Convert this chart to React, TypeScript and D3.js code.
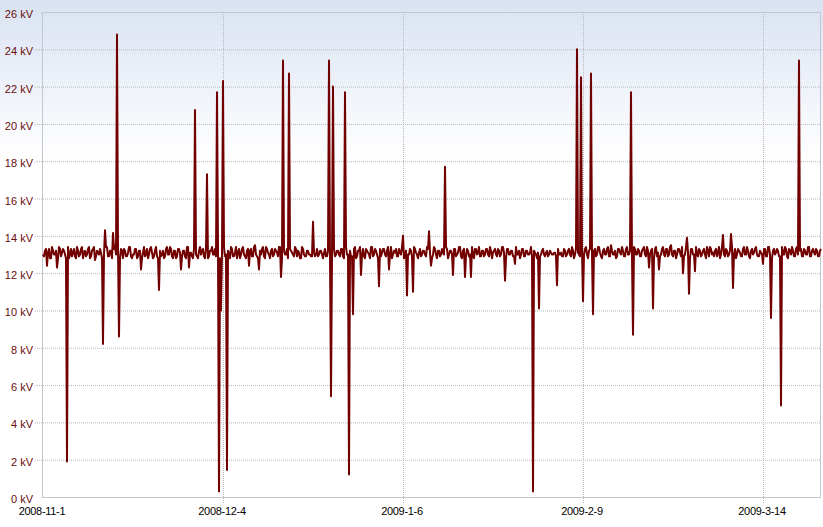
import React from 'react';
import * as d3 from 'd3';

// Voltage readings (kV), one every ~8 hours
const baseline: number[] = [
  13.0,13.2,12.9,13.3,12.8,13.2,13.0,12.9,13.4,12.9,
  13.3,13.0,13.2,12.8,13.3,13.1,12.9,13.4,12.9,13.3,
  12.8,13.2,13.0,13.4,12.9,13.3,12.7,13.2,13.0,13.1,
  13.3,13.0,13.4,12.9,13.2,13.1,13.5,13.0,12.9,13.3,
  12.8,13.2,12.9,13.4,12.9,13.0,13.3,12.8,13.2,13.0,
  13.1,12.9,13.3,13.0,13.4,12.8,13.2,12.9,13.3,12.9,
  13.2,12.9,13.4,13.0,13.3,12.8,13.2,12.9,13.3,13.0,
  13.2,12.9,13.4,13.0,13.1,12.8,13.3,12.9,13.2,13.0,
  13.3,12.8,13.4,12.9,13.2,13.0,13.3,12.9,13.2,13.1,
  13.3,12.9,13.2,13.0,13.4,12.9,13.1,12.8,13.3,13.0,
  13.4,12.9,13.2,13.0,13.3,12.9,13.5,12.9,13.2,13.0,
  13.4,12.8,13.3,13.0,13.2,12.9,13.3,13.1,13.4,12.9,
  13.2,13.0,13.3,12.8,13.2,13.0,13.4,12.9,13.1,12.8,
  13.3,12.9,13.2,13.0,12.9,13.1,12.9,13.3,13.0,13.2,
  12.8,13.3,12.9,13.2,13.0,13.1,12.9,13.2,13.0,13.3,
  12.9,13.2,13.0,13.3,12.9,13.1,13.4,12.9,13.2,13.0,
  13.3,12.8,13.2,13.0,13.4,12.9,13.3,13.0,13.2,12.9,
  13.3,13.0,13.2,12.9,13.4,13.0,13.1,12.9,13.3,13.0,
  13.2,12.9,13.3,13.0,13.2,12.9,13.3,13.0,13.1,12.9,
  13.2,13.0,13.4,12.9,13.2,13.0,13.3,12.8,13.2,13.0,
  13.1,12.9,13.3,13.0,13.2,12.9,13.3,13.0,13.4,12.9,
  13.2,13.0,13.3,12.9,13.2,13.0,13.3,13.0,13.4,12.9,
  13.2,13.0,13.3,12.9,13.2,13.1,13.3,12.9,13.2,13.0,
  13.4,12.9,13.3,13.0,13.2,12.9,13.4,13.0,13.2,13.0,
  13.3,12.9,13.2,13.0,13.4,12.9,13.1,12.8,13.2,13.0,
  13.3,12.9,13.2,13.0,13.1,13.0,13.1,12.9,13.0,13.1,
  12.9,13.2,13.0,13.3,12.9,13.2,13.0,13.3,13.0,13.2,
  12.9,13.3,13.0,13.2,12.9,13.1,13.3,13.0,13.4,12.9,
  13.2,13.0,13.3,12.9,13.5,13.0,13.2,12.9,13.3,13.0,
  13.2,12.9,13.4,13.0,13.2,12.9,13.3,13.0,13.2,12.9,
  13.3,13.0,13.4,12.9,13.2,13.0,13.3,12.9,13.2,13.0,
  13.4,12.9,13.3,13.0,13.5,12.9,13.2,13.0,13.3,12.9,
  13.2,13.0,13.4,12.9,13.3,13.0,13.2,13.0,13.3,12.9,
  13.2,13.0,13.4,12.9,13.3,13.1,13.2,12.9,13.4,13.0,
  13.3,12.9,13.2,13.0,13.4,12.9,13.3,13.0,13.2,12.9,
  13.3,13.0,13.4,12.9,13.2,13.0,13.3,13.0,12.9,13.1,
  13.0,13.3,12.9,13.4,12.9,13.2,13.0,13.3,12.9,13.2,
  13.0,13.4,12.9,13.3,13.0,13.2,12.9,13.4,13.0,13.3,
  12.9,13.2,13.0,13.4,12.9,13.3,13.0,13.2,12.9,13.3,
];

// Readings taken between the baseline ones (kV)
const midReadings: number[] = [
  12.9,13.3,13.1,12.8,13.4,13.0,13.2,12.8,13.3,13.1,
  13.2,12.8,13.4,13.0,12.9,13.3,12.8,13.2,13.0,13.4,
  13.1,12.9,13.3,12.8,13.2,13.4,12.9,13.1,13.3,12.8,
  13.0,13.4,12.9,13.2,12.8,13.3,13.0,13.4,12.8,13.2,
  13.3,12.9,13.1,13.4,12.8,13.0,13.3,12.9,13.2,12.8,
  13.4,13.0,12.8,13.3,13.1,12.9,13.4,12.8,13.2,13.0,
  12.8,13.3,13.0,13.4,12.9,13.2,12.8,13.3,13.1,12.9,
  13.2,12.8,13.4,13.1,12.9,13.3,13.0,12.8,13.4,13.2,
  12.9,13.3,12.8,13.2,13.4,13.0,12.9,13.3,12.8,13.1,
  13.4,13.0,13.2,12.8,13.3,12.9,13.4,13.1,12.8,13.3,
  13.0,12.8,13.3,13.2,12.9,13.4,13.0,12.8,13.2,13.3,
  12.9,13.4,13.1,12.8,13.3,13.0,13.2,12.9,13.4,12.8,
  13.2,13.0,12.8,13.3,13.1,12.9,13.3,13.2,12.8,13.4,
  13.0,12.9,13.2,13.0,12.9,13.1,13.0,12.9,13.2,13.0,
  13.1,12.9,13.2,13.0,12.8,13.3,13.0,13.2,12.9,13.3,
  12.8,13.4,13.0,13.2,12.9,13.3,12.8,13.2,13.4,13.0,
  12.9,13.3,13.1,12.8,13.4,13.0,13.2,12.8,13.3,13.1,
  13.3,12.9,13.4,13.0,12.8,13.2,13.3,12.9,13.1,13.4,
  12.8,13.2,13.0,13.3,12.9,13.4,13.1,12.8,13.3,13.0,
  13.2,12.9,13.3,13.1,12.8,13.4,13.0,13.2,12.9,13.3,
  13.0,13.4,12.8,13.2,13.0,13.3,12.9,13.1,13.4,12.8,
  13.3,12.9,13.2,13.0,13.4,12.8,13.3,13.1,12.9,13.2,
  12.9,13.3,13.0,13.4,12.8,13.2,13.0,13.3,12.9,13.4,
  13.1,12.8,13.3,13.0,13.2,12.9,13.4,13.0,12.8,13.3,
  12.9,13.2,13.0,13.1,12.9,13.2,13.0,13.1,12.9,13.2,
  13.0,13.1,12.9,13.2,13.0,13.1,12.9,13.3,13.0,12.9,
  13.3,12.9,13.2,13.0,13.4,12.8,13.3,13.1,12.9,13.2,
  13.0,13.4,12.8,13.3,13.0,13.2,12.9,13.4,13.1,12.8,
  13.3,13.0,13.4,12.9,13.2,13.0,12.8,13.3,13.1,13.4,
  12.9,13.3,13.0,13.2,12.8,13.4,13.0,13.3,12.9,13.2,
  13.4,12.9,13.2,13.0,13.3,12.8,13.4,13.1,12.9,13.3,
  13.0,13.3,12.9,13.4,13.0,13.2,12.8,13.3,13.1,13.4,
  12.9,13.4,13.1,12.8,13.3,13.0,13.4,12.9,13.2,13.0,
  13.3,12.8,13.2,13.4,13.0,12.9,13.3,13.1,12.8,13.4,
  13.0,13.3,12.9,13.2,13.4,13.0,12.8,13.3,13.1,12.9,
  13.4,13.0,13.2,12.8,13.3,13.1,13.4,12.9,13.2,13.0,
  13.3,12.9,13.4,13.0,12.8,13.3,13.1,13.2,12.9,13.4,
  13.0,13.3,12.8,13.2,13.4,12.9,13.3,13.0,13.2,12.9,
  13.3,13.0,13.4,12.9,13.2,13.1,13.3,12.9,13.2,13.1,
];

// Spikes and dips: [baseline index, kV]
const spikes: [number, number][] = [
  [2, 12.4], [7, 12.3], [12, 1.9], [30, 8.2], [31, 14.3], [35, 14.15],
  [37, 24.8], [38, 8.6], [49, 12.2], [58, 11.1], [69, 12.2], [73, 12.3],
  [76, 20.75], [82, 17.3], [87, 21.7], [88, 0.3], [89, 10.0], [90, 22.3],
  [92, 1.45], [103, 12.4], [108, 12.2], [119, 11.8], [120, 23.4], [123, 22.7],
  [135, 14.75], [143, 23.4], [144, 5.4], [145, 22.0], [151, 21.7], [153, 1.2],
  [155, 9.8], [159, 11.9], [168, 11.3], [173, 12.2], [180, 14.0], [182, 10.8],
  [185, 11.0], [193, 14.25], [194, 12.4], [201, 17.7], [205, 11.9], [211, 11.8],
  [214, 11.8], [231, 11.6], [236, 12.5], [245, 0.3], [248, 10.1], [257, 11.35],
  [267, 24.0], [269, 22.5], [270, 10.5], [274, 22.7], [275, 9.8], [294, 21.7],
  [295, 8.7], [303, 12.3], [305, 10.1], [308, 12.2], [320, 12.0], [322, 13.9],
  [323, 10.9], [326, 12.1], [340, 14.05], [344, 14.1], [345, 11.2], [360, 12.5],
  [364, 9.6], [369, 4.9], [378, 23.4],
];

const xLabels = ['2008-11-1', '2008-12-4', '2009-1-6', '2009-2-9', '2009-3-14'];
const labelStep = 180;
const yTicks = d3.range(0, 27, 2);

export default function App() {
  const W = 823, H = 527;
  const L = 42, R = 821, T = 12, B = 497;
  const values = baseline.slice();
  spikes.forEach(([i, v]) => { values[i] = v; });
  const series: number[] = [];
  for (let i = 0; i < 389; i++) {
    series.push(values[i]);
    series.push(midReadings[i]);
  }
  series.push(values[389]);
  const x = d3.scaleLinear().domain([0, 778]).range([43, 821]);
  const y = d3.scaleLinear().domain([0, 26]).range([B, T]);
  const line = d3.line<number>().x((_, i) => x(i)).y(d => y(d));
  const gridColor = '#b8b8b8';
  return (
    <svg width={W} height={H} style={{ position: 'absolute', left: 0, top: 0 }}
      fontFamily="'Liberation Sans', Arial, sans-serif">
      <defs>
        <linearGradient id="bg" x1="0" y1="0" x2="0" y2="1">
          <stop offset="0" stopColor="#d9e2f2" />
          <stop offset="0.3" stopColor="#ffffff" />
          <stop offset="1" stopColor="#ffffff" />
        </linearGradient>
      </defs>
      <rect x={0} y={0} width={W} height={H} fill="url(#bg)" />
      {yTicks.map(t => (
        <g key={t}>
          {t > 0 && t < 26 && (
            <line x1={35} x2={R} y1={y(t) + 0.5} y2={y(t) + 0.5} stroke={gridColor}
              strokeDasharray="1,1" />
          )}
          <text x={33} y={y(t) + 6} textAnchor="end" fontSize={11} fill="#6a0c0c">{t} kV</text>
        </g>
      ))}
      {xLabels.map((lab, k) => (
        <g key={lab}>
          {k > 0 && (
            <line x1={Math.round(x(k * labelStep)) + 0.5} x2={Math.round(x(k * labelStep)) + 0.5}
              y1={T} y2={B + 6} stroke={gridColor} strokeDasharray="1,1" />
          )}
          <text x={x(k * labelStep) - 1} y={515} textAnchor="middle" fontSize={11}
            letterSpacing={-0.3} fill="#000">{lab}</text>
        </g>
      ))}
      <rect x={L + 0.5} y={T + 0.5} width={R - L - 1} height={B - T} fill="none" stroke="#c2c6ce" />
      <path d={line(series) || ''} fill="none" stroke="#730000" strokeWidth={2}
        strokeLinejoin="round" />
    </svg>
  );
}
